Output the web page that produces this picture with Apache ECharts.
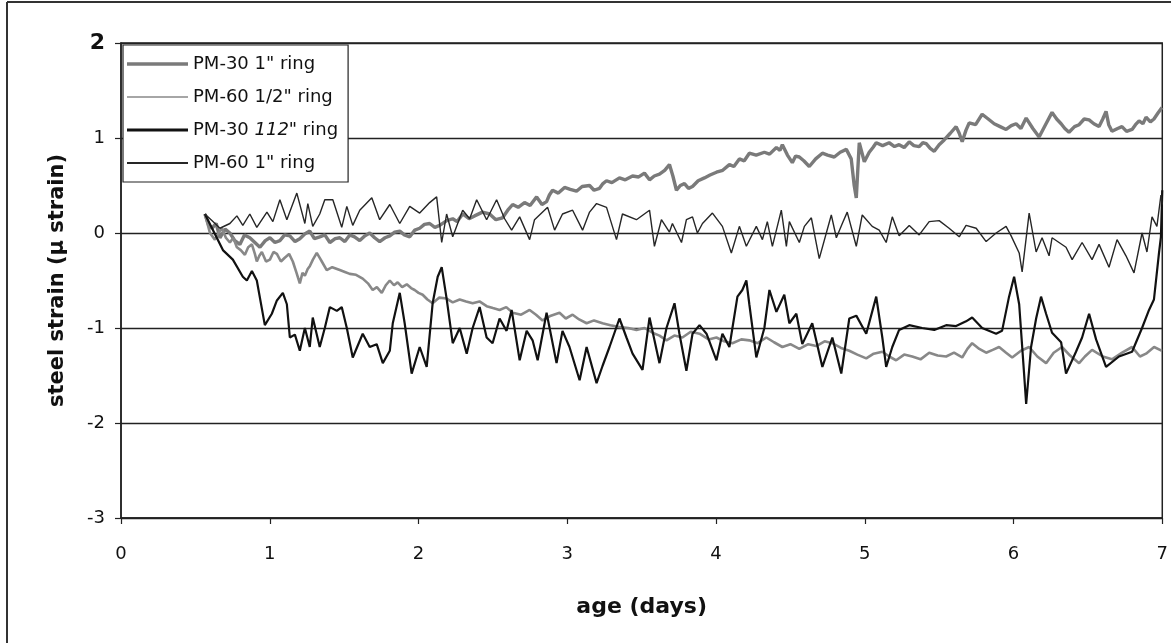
<!DOCTYPE html>
<html>
<head>
<meta charset="utf-8">
<style>html,body{margin:0;padding:0;background:#fff;}#c{width:1171px;height:643px;}</style>
<script src="https://cdn.jsdelivr.net/npm/echarts@6/dist/echarts.min.js"></script>
</head>
<body>
<div id="c"></div>
<script>
const seriesNames = ['PM-30 1" ring', 'PM-60 1/2" ring', 'PM-30 112" ring', 'PM-60 1" ring'];
const xTicks = [0, 1, 2, 3, 4, 5, 6, 7];
const yTicks = [-3, -2, -1, 0, 1, 2];

// PM-30 1" ring (rising, grey textured)
const pm30_1in = [[0.564,0.2],[0.59,0.08],[0.611,0.05],[0.64,0.1],[0.665,-0.05],[0.7,0.04],[0.732,0.0],[0.765,-0.08],[0.799,-0.12],[0.83,-0.02],[0.866,-0.05],[0.9,-0.1],[0.934,-0.15],[0.97,-0.08],[1.001,-0.05],[1.035,-0.1],[1.068,-0.08],[1.1,-0.02],[1.135,-0.03],[1.17,-0.09],[1.202,-0.06],[1.235,-0.01],[1.269,0.02],[1.3,-0.06],[1.336,-0.04],[1.37,-0.02],[1.404,-0.1],[1.44,-0.06],[1.471,-0.05],[1.505,-0.09],[1.538,-0.02],[1.57,-0.04],[1.605,-0.08],[1.64,-0.03],[1.672,0.0],[1.705,-0.05],[1.739,-0.09],[1.775,-0.05],[1.807,-0.03],[1.84,0.01],[1.874,0.02],[1.905,-0.02],[1.941,-0.04],[1.975,0.03],[2.008,0.05],[2.04,0.09],[2.075,0.1],[2.11,0.06],[2.142,0.08],[2.19,0.13],[2.23,0.15],[2.26,0.12],[2.297,0.2],[2.34,0.15],[2.377,0.18],[2.43,0.22],[2.478,0.2],[2.52,0.14],[2.565,0.16],[2.6,0.24],[2.633,0.3],[2.67,0.27],[2.713,0.32],[2.75,0.29],[2.794,0.38],[2.83,0.3],[2.861,0.33],[2.88,0.4],[2.901,0.45],[2.94,0.42],[2.982,0.48],[3.02,0.46],[3.062,0.44],[3.1,0.49],[3.15,0.5],[3.18,0.45],[3.217,0.47],[3.24,0.52],[3.264,0.55],[3.3,0.53],[3.351,0.58],[3.39,0.56],[3.439,0.6],[3.48,0.59],[3.519,0.63],[3.553,0.56],[3.585,0.6],[3.62,0.62],[3.655,0.66],[3.687,0.72],[3.71,0.6],[3.734,0.45],[3.76,0.5],[3.788,0.52],[3.815,0.47],[3.842,0.49],[3.88,0.55],[3.922,0.58],[3.96,0.61],[4.003,0.64],[4.045,0.66],[4.09,0.72],[4.12,0.7],[4.157,0.78],[4.19,0.76],[4.224,0.84],[4.27,0.82],[4.325,0.85],[4.36,0.83],[4.406,0.9],[4.43,0.87],[4.446,0.93],[4.48,0.82],[4.513,0.74],[4.535,0.81],[4.56,0.8],[4.59,0.76],[4.627,0.7],[4.67,0.78],[4.715,0.84],[4.75,0.82],[4.795,0.8],[4.835,0.85],[4.876,0.88],[4.909,0.78],[4.929,0.5],[4.943,0.37],[4.963,0.95],[4.997,0.75],[5.03,0.85],[5.055,0.9],[5.077,0.95],[5.12,0.92],[5.164,0.95],[5.2,0.91],[5.231,0.93],[5.265,0.9],[5.299,0.96],[5.33,0.92],[5.366,0.91],[5.39,0.95],[5.413,0.94],[5.44,0.89],[5.467,0.86],[5.5,0.93],[5.534,0.98],[5.575,1.05],[5.614,1.12],[5.635,1.05],[5.655,0.96],[5.68,1.08],[5.702,1.16],[5.745,1.14],[5.789,1.25],[5.83,1.2],[5.87,1.15],[5.91,1.12],[5.95,1.09],[5.985,1.13],[6.017,1.15],[6.05,1.1],[6.085,1.21],[6.13,1.1],[6.172,1.01],[6.215,1.14],[6.259,1.27],[6.29,1.2],[6.32,1.15],[6.345,1.1],[6.373,1.06],[6.41,1.12],[6.441,1.14],[6.475,1.2],[6.508,1.19],[6.54,1.15],[6.575,1.12],[6.6,1.2],[6.622,1.28],[6.64,1.14],[6.662,1.07],[6.7,1.1],[6.729,1.12],[6.76,1.07],[6.797,1.09],[6.82,1.14],[6.844,1.18],[6.87,1.15],[6.891,1.22],[6.92,1.17],[6.944,1.2],[6.97,1.26],[6.998,1.32]];

// PM-60 1/2" ring (descending, grey)
const pm60_half = [[0.564,0.2],[0.598,0.0],[0.631,-0.07],[0.655,0.0],[0.678,0.05],[0.705,-0.05],[0.732,-0.1],[0.755,-0.05],[0.779,-0.15],[0.805,-0.18],[0.833,-0.23],[0.855,-0.15],[0.88,-0.12],[0.9,-0.22],[0.913,-0.3],[0.93,-0.24],[0.947,-0.2],[0.975,-0.3],[1.001,-0.28],[1.025,-0.2],[1.048,-0.22],[1.075,-0.3],[1.101,-0.26],[1.13,-0.22],[1.155,-0.3],[1.18,-0.42],[1.202,-0.53],[1.22,-0.42],[1.236,-0.45],[1.255,-0.38],[1.269,-0.35],[1.29,-0.28],[1.316,-0.21],[1.335,-0.26],[1.35,-0.3],[1.383,-0.39],[1.42,-0.36],[1.471,-0.39],[1.505,-0.41],[1.538,-0.43],[1.58,-0.44],[1.625,-0.48],[1.66,-0.53],[1.692,-0.6],[1.72,-0.57],[1.753,-0.63],[1.78,-0.55],[1.807,-0.5],[1.835,-0.55],[1.86,-0.52],[1.89,-0.57],[1.921,-0.54],[1.95,-0.58],[1.974,-0.6],[2.0,-0.63],[2.028,-0.65],[2.06,-0.7],[2.095,-0.74],[2.14,-0.68],[2.189,-0.69],[2.23,-0.73],[2.277,-0.7],[2.32,-0.72],[2.364,-0.74],[2.41,-0.72],[2.458,-0.77],[2.5,-0.79],[2.545,-0.81],[2.59,-0.78],[2.633,-0.84],[2.69,-0.86],[2.747,-0.81],[2.79,-0.86],[2.834,-0.92],[2.89,-0.87],[2.948,-0.84],[2.99,-0.9],[3.036,-0.86],[3.08,-0.91],[3.13,-0.95],[3.18,-0.92],[3.237,-0.95],[3.29,-0.97],[3.351,-0.99],[3.41,-1.0],[3.465,-1.02],[3.52,-1.0],[3.573,-1.05],[3.62,-1.08],[3.667,-1.13],[3.72,-1.08],[3.774,-1.1],[3.83,-1.04],[3.889,-1.06],[3.95,-1.12],[4.003,-1.1],[4.055,-1.14],[4.11,-1.16],[4.17,-1.12],[4.224,-1.13],[4.28,-1.16],[4.338,-1.1],[4.39,-1.15],[4.446,-1.2],[4.5,-1.17],[4.56,-1.22],[4.62,-1.17],[4.674,-1.19],[4.73,-1.14],[4.782,-1.16],[4.84,-1.21],[4.896,-1.24],[4.95,-1.28],[5.01,-1.32],[5.06,-1.27],[5.118,-1.25],[5.165,-1.3],[5.211,-1.34],[5.265,-1.28],[5.319,-1.3],[5.375,-1.33],[5.433,-1.26],[5.49,-1.29],[5.547,-1.3],[5.6,-1.26],[5.655,-1.31],[5.69,-1.22],[5.722,-1.16],[5.77,-1.22],[5.816,-1.26],[5.86,-1.23],[5.903,-1.2],[5.95,-1.26],[5.991,-1.31],[6.05,-1.24],[6.105,-1.2],[6.16,-1.3],[6.219,-1.37],[6.27,-1.26],[6.326,-1.2],[6.38,-1.29],[6.441,-1.37],[6.48,-1.3],[6.528,-1.23],[6.6,-1.3],[6.662,-1.33],[6.73,-1.26],[6.797,-1.2],[6.85,-1.3],[6.891,-1.27],[6.945,-1.2],[6.998,-1.24]];

// PM-30 1/2" ring (lower, thick black, noisy)
const pm30_half = [[0.564,0.2],[0.685,-0.18],[0.752,-0.28],[0.819,-0.46],[0.846,-0.5],[0.88,-0.4],[0.913,-0.5],[0.967,-0.97],[1.014,-0.85],[1.048,-0.71],[1.088,-0.63],[1.115,-0.75],[1.135,-1.1],[1.169,-1.07],[1.202,-1.24],[1.236,-1.0],[1.269,-1.2],[1.289,-0.89],[1.336,-1.2],[1.37,-1.0],[1.404,-0.78],[1.451,-0.82],[1.484,-0.78],[1.518,-1.0],[1.558,-1.31],[1.625,-1.06],[1.672,-1.2],[1.719,-1.17],[1.76,-1.37],[1.807,-1.24],[1.827,-0.95],[1.874,-0.63],[1.907,-0.95],[1.954,-1.48],[2.008,-1.2],[2.055,-1.41],[2.095,-0.74],[2.129,-0.46],[2.156,-0.36],[2.189,-0.69],[2.23,-1.16],[2.277,-1.0],[2.324,-1.27],[2.364,-1.0],[2.411,-0.78],[2.458,-1.1],[2.498,-1.16],[2.545,-0.9],[2.592,-1.03],[2.626,-0.81],[2.68,-1.34],[2.727,-1.03],[2.767,-1.13],[2.801,-1.34],[2.861,-0.84],[2.928,-1.37],[2.968,-1.03],[3.015,-1.2],[3.083,-1.55],[3.13,-1.2],[3.197,-1.58],[3.237,-1.4],[3.284,-1.2],[3.351,-0.9],[3.398,-1.1],[3.439,-1.27],[3.506,-1.44],[3.553,-0.89],[3.62,-1.37],[3.667,-1.0],[3.721,-0.74],[3.754,-1.06],[3.801,-1.45],[3.842,-1.06],[3.889,-0.97],[3.936,-1.06],[4.003,-1.34],[4.043,-1.06],[4.09,-1.2],[4.144,-0.67],[4.177,-0.6],[4.204,-0.5],[4.224,-0.75],[4.271,-1.31],[4.325,-1.0],[4.359,-0.6],[4.406,-0.83],[4.459,-0.65],[4.493,-0.95],[4.54,-0.85],[4.58,-1.17],[4.647,-0.95],[4.715,-1.41],[4.782,-1.1],[4.842,-1.48],[4.896,-0.9],[4.943,-0.87],[5.01,-1.06],[5.077,-0.67],[5.118,-1.1],[5.144,-1.41],[5.185,-1.2],[5.231,-1.02],[5.299,-0.97],[5.386,-1.0],[5.467,-1.02],[5.547,-0.97],[5.614,-0.98],[5.681,-0.93],[5.722,-0.89],[5.789,-1.0],[5.883,-1.06],[5.923,-1.03],[5.97,-0.67],[6.004,-0.46],[6.038,-0.75],[6.071,-1.48],[6.085,-1.8],[6.118,-1.2],[6.152,-0.9],[6.185,-0.67],[6.219,-0.85],[6.259,-1.05],[6.32,-1.15],[6.353,-1.48],[6.42,-1.25],[6.461,-1.1],[6.508,-0.85],[6.555,-1.12],[6.622,-1.41],[6.709,-1.3],[6.797,-1.25],[6.864,-1.0],[6.911,-0.81],[6.944,-0.7],[6.978,-0.21],[6.991,-0.04],[7.0,0.45]];

// PM-60 1" ring (around zero, medium black)
const pm60_1in = [[0.564,0.2],[0.618,0.12],[0.665,0.05],[0.732,0.1],[0.779,0.18],[0.819,0.08],[0.866,0.2],[0.913,0.06],[0.981,0.22],[1.021,0.12],[1.068,0.35],[1.115,0.14],[1.182,0.42],[1.236,0.1],[1.256,0.31],[1.289,0.07],[1.336,0.2],[1.37,0.35],[1.424,0.35],[1.484,0.06],[1.518,0.28],[1.558,0.08],[1.605,0.24],[1.686,0.37],[1.739,0.14],[1.807,0.3],[1.874,0.1],[1.941,0.28],[2.008,0.21],[2.075,0.32],[2.122,0.38],[2.156,-0.1],[2.189,0.2],[2.23,-0.04],[2.297,0.24],[2.344,0.15],[2.391,0.35],[2.458,0.14],[2.525,0.35],[2.579,0.15],[2.626,0.03],[2.68,0.17],[2.747,-0.07],[2.78,0.14],[2.868,0.27],[2.915,0.03],[2.968,0.2],[3.036,0.24],[3.103,0.03],[3.15,0.22],[3.197,0.31],[3.264,0.27],[3.331,-0.07],[3.371,0.2],[3.465,0.14],[3.553,0.24],[3.586,-0.14],[3.633,0.14],[3.687,0.01],[3.707,0.1],[3.768,-0.1],[3.801,0.14],[3.842,0.17],[3.875,0.0],[3.909,0.1],[3.976,0.21],[4.043,0.07],[4.103,-0.21],[4.157,0.07],[4.204,-0.14],[4.271,0.07],[4.312,-0.07],[4.345,0.12],[4.379,-0.14],[4.439,0.24],[4.473,-0.14],[4.493,0.12],[4.56,-0.1],[4.594,0.07],[4.641,0.16],[4.694,-0.27],[4.775,0.19],[4.809,-0.05],[4.849,0.1],[4.882,0.22],[4.943,-0.14],[4.983,0.19],[5.05,0.07],[5.097,0.03],[5.144,-0.1],[5.185,0.17],[5.231,-0.03],[5.299,0.08],[5.366,-0.02],[5.433,0.12],[5.5,0.13],[5.567,0.05],[5.635,-0.04],[5.681,0.08],[5.749,0.05],[5.816,-0.09],[5.883,0.0],[5.95,0.07],[5.984,-0.03],[6.038,-0.21],[6.058,-0.41],[6.105,0.21],[6.152,-0.2],[6.192,-0.05],[6.239,-0.24],[6.259,-0.05],[6.353,-0.15],[6.394,-0.28],[6.461,-0.1],[6.528,-0.28],[6.575,-0.12],[6.642,-0.36],[6.696,-0.07],[6.756,-0.24],[6.81,-0.42],[6.864,0.0],[6.897,-0.2],[6.931,0.17],[6.964,0.07],[6.991,0.4],[7.0,0.3]];

const FONT = 'DejaVu Sans';
const chart = echarts.init(document.getElementById('c'), null, {renderer: 'canvas'});
chart.setOption({
  animation: false,
  backgroundColor: '#fff',
  textStyle: {fontFamily: FONT},
  grid: {left: 121, right: 8, top: 43, bottom: 125, show: true, borderColor: '#222', borderWidth: 1.5, backgroundColor: 'transparent'},
  legend: {
    orient: 'vertical', left: 123, top: 45,
    itemWidth: 61, itemHeight: 14, itemGap: 15,
    padding: [10, 10, 10, 4],
    symbolKeepAspect: true,
    backgroundColor: '#fff', borderColor: '#222', borderWidth: 1.2, borderRadius: 0,
    data: [
      {name: seriesNames[0], icon: 'path://M0,0H61V3.5H0Z'},
      {name: seriesNames[1], icon: 'path://M0,0H61V1.6H0Z'},
      {name: seriesNames[2], icon: 'path://M0,0H61V3H0Z'},
      {name: seriesNames[3], icon: 'path://M0,0H61V2H0Z'}
    ],
    formatter: function (n) { return n === seriesNames[2] ? 'PM-30 {i|112}" ring' : n; },
    textStyle: {fontSize: 18, color: '#111', fontFamily: FONT,
      rich: {i: {fontSize: 18, fontStyle: 'italic', color: '#111', fontFamily: FONT}}}
  },
  xAxis: {
    type: 'value', min: xTicks[0], max: xTicks[xTicks.length - 1], interval: 1,
    name: 'age (days)', nameLocation: 'middle', nameGap: 78,
    nameTextStyle: {fontSize: 22, fontWeight: 'bold', color: '#111', fontFamily: FONT},
    axisLine: {show: true, onZero: false, lineStyle: {color: '#222', width: 1.5}},
    axisTick: {show: true, length: 6, lineStyle: {color: '#222', width: 1.2}},
    splitLine: {show: false},
    axisLabel: {fontSize: 18, color: '#111', margin: 27, fontFamily: FONT}
  },
  yAxis: {
    type: 'value', min: yTicks[0], max: yTicks[yTicks.length - 1], interval: 1,
    name: 'steel strain (\u03bc strain)', nameLocation: 'middle', nameGap: 53,
    nameTextStyle: {fontSize: 21, fontWeight: 'bold', color: '#111', fontFamily: FONT},
    axisLine: {show: true, onZero: false, lineStyle: {color: '#222', width: 1.5}},
    axisTick: {show: true, length: 6, lineStyle: {color: '#222', width: 1.2}},
    splitLine: {show: true, lineStyle: {color: '#222', width: 1.4}},
    axisLabel: {fontSize: 18, color: '#111', margin: 16, fontFamily: FONT,
      formatter: function (v) { return v === 2 ? '{b|2}' : String(v); },
      rich: {b: {fontSize: 22, fontWeight: 'bold', color: '#111', fontFamily: FONT}}}
  },
  series: [
    {name: seriesNames[0], type: 'line', data: pm30_1in, symbol: 'none', z: 3,
      lineStyle: {color: '#7a7a7a', width: 3.4}, itemStyle: {color: '#7a7a7a'}},
    {name: seriesNames[1], type: 'line', data: pm60_half, symbol: 'none', z: 3,
      lineStyle: {color: '#888888', width: 2.6}, itemStyle: {color: '#888888'}},
    {name: seriesNames[2], type: 'line', data: pm30_half, symbol: 'none', z: 4,
      lineStyle: {color: '#111', width: 2.2}, itemStyle: {color: '#111'}},
    {name: seriesNames[3], type: 'line', data: pm60_1in, symbol: 'none', z: 4,
      lineStyle: {color: '#262626', width: 1.4}, itemStyle: {color: '#262626'}}
  ],
  graphic: [
    {type: 'line', shape: {x1: 7, y1: 2, x2: 1171, y2: 2}, style: {stroke: '#333', lineWidth: 2}},
    {type: 'line', shape: {x1: 7, y1: 2, x2: 7, y2: 643}, style: {stroke: '#333', lineWidth: 2}}
  ]
});
</script>
</body>
</html>
